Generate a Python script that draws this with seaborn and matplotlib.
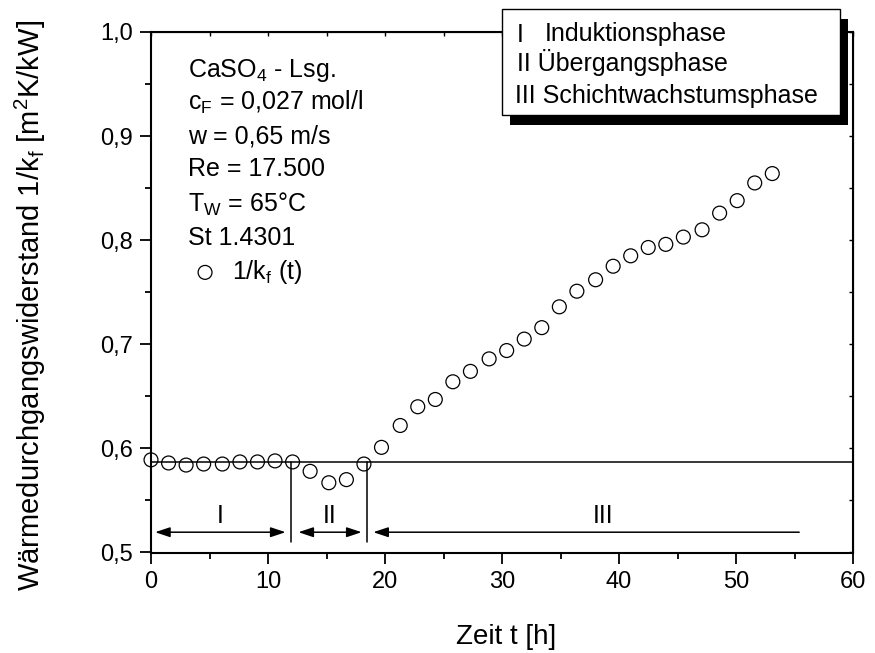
import numpy as np
import pandas as pd
import seaborn as sns
import matplotlib.pyplot as plt
from matplotlib.patches import Rectangle
from matplotlib.ticker import MultipleLocator, FuncFormatter

# Messwerte: Zeit [h] und 1/k_f [m^2K/kW]
zeit = [0.0, 1.5, 3.0, 4.5, 6.1, 7.6, 9.1, 10.6, 12.1, 13.6, 15.2, 16.7,
        18.2, 19.7, 21.3, 22.8, 24.3, 25.8, 27.3, 28.9, 30.4, 31.9, 33.4, 34.9,
        36.4, 38.0, 39.5, 41.0, 42.5, 44.0, 45.5, 47.1, 48.6, 50.1, 51.6, 53.1]
widerstand = [0.589, 0.586, 0.584, 0.585, 0.585, 0.587, 0.587, 0.588, 0.587, 0.578,
              0.567, 0.570, 0.585, 0.601, 0.622, 0.640, 0.647, 0.664, 0.674, 0.686,
              0.694, 0.705, 0.716, 0.736, 0.751, 0.762, 0.775, 0.785, 0.793, 0.796,
              0.803, 0.810, 0.826, 0.838, 0.855, 0.864]

# Phasen: Grenzen [h], Basislinie, Pfeile
basislinie = 0.587
phasen_grenzen = [11.95, 18.5]
phasen_namen = ['I', 'II', 'III']
pfeil_start = [0.35, 12.6, 19.0]
pfeil_ende = [11.5, 18.0, 55.4]
label_x = [5.9, 15.3, 38.6]

legende_phasen = ['Induktionsphase', 'Übergangsphase', 'Schichtwachstumsphase']
info_zeilen = [r'CaSO$_4$ - Lsg.', r'c$_F$ = 0,027 mol/l', 'w = 0,65 m/s',
               'Re = 17.500', r'T$_W$ = 65°C', 'St 1.4301']

df = pd.DataFrame({'t': zeit, 'R': widerstand})

sns.set_style('ticks', {'axes.edgecolor': 'black', 'text.color': 'black',
                        'axes.labelcolor': 'black', 'xtick.color': 'black',
                        'ytick.color': 'black'})
plt.rcParams['font.family'] = ['Liberation Sans', 'DejaVu Sans']
plt.rcParams['mathtext.default'] = 'regular'

FS = 18
W, H = 875, 653
fig = plt.figure(figsize=(W / 100, H / 100), dpi=100)
ax = fig.add_axes([151 / W, 1 - 552.5 / H, 702 / W, 520.5 / H])

sns.scatterplot(data=df, x='t', y='R', ax=ax, marker='o', s=100,
                facecolor='none', edgecolor='black', linewidth=0.9,
                label=r'1/k$_f$ (t)', clip_on=False, zorder=5)

ax.set_xlim(0, 60)
ax.set_ylim(0.5, 1.0)

# Basislinie und Phasengrenzen
ax.axhline(basislinie, color='black', lw=1.1)
for g in phasen_grenzen:
    ax.plot([g, g], [0.51, basislinie], color='black', lw=1.1)

arrow_y = 0.5195
for i, (a, b) in enumerate(zip(pfeil_start, pfeil_ende)):
    style = '<|-|>' if i < 2 else '<|-'
    ax.annotate('', xy=(b, arrow_y), xytext=(a, arrow_y),
                arrowprops=dict(arrowstyle=style + ',head_length=0.9,head_width=0.3',
                                color='black', lw=1.1, shrinkA=0, shrinkB=0))
    ax.text(label_x[i], 0.535, phasen_namen[i], ha='center', va='center', fontsize=FS)

# Achsen
ax.xaxis.set_major_locator(MultipleLocator(10))
ax.xaxis.set_minor_locator(MultipleLocator(5))
ax.yaxis.set_major_locator(MultipleLocator(0.1))
ax.yaxis.set_minor_locator(MultipleLocator(0.05))
ax.yaxis.set_major_formatter(FuncFormatter(lambda v, p: f'{v:.1f}'.replace('.', ',')))
ax.tick_params(which='major', direction='out', length=8, width=1.3, labelsize=17, pad=5)
ax.tick_params(which='minor', direction='out', length=4, width=1.3)
for s in ax.spines.values():
    s.set_linewidth(1.5)

# kleine Innenticks oben / rechts
sec_top = ax.secondary_xaxis('top')
sec_right = ax.secondary_yaxis('right')
for sec in [sec_top, sec_right]:
    sec.tick_params(which='both', direction='in', length=3, width=1.0,
                    labeltop=False, labelright=False, labelbottom=False, labelleft=False)
sec_top.xaxis.set_major_locator(MultipleLocator(10))
sec_top.xaxis.set_minor_locator(MultipleLocator(5))
sec_right.yaxis.set_major_locator(MultipleLocator(0.1))
sec_right.yaxis.set_minor_locator(MultipleLocator(0.05))

ax.set_xlabel('Zeit t [h]', fontsize=20)
ax.set_ylabel(r'Wärmedurchgangswiderstand 1/k$_f$ [m$^2$K/kW]', fontsize=21)
ax.xaxis.set_label_coords(0.506, -0.162)
ax.xaxis.label.set_va('center')
ax.yaxis.set_label_coords(-0.172, 0.474)
ax.yaxis.label.set_va('center')

# Versuchsbedingungen
baselines = [76.5, 109.5, 143.5, 176.5, 211.5, 245.5]
for txt, b in zip(info_zeilen, baselines):
    fig.text(188 / W, 1 - b / H, txt, fontsize=FS, ha='left', va='baseline')

leg = ax.legend(loc='center left', bbox_to_anchor=(0.0592, 0.539), frameon=False,
                fontsize=FS, handlelength=1.0, handletextpad=0.58,
                borderpad=0, borderaxespad=0)

# Phasen-Legende mit Schatten
fig.add_artist(Rectangle((510 / W, 1 - 125 / H), 338 / W, 106 / H,
                         transform=fig.transFigure, facecolor='black', edgecolor='none', zorder=10))
fig.add_artist(Rectangle((502 / W, 1 - 115 / H), 338 / W, 106 / H,
                         transform=fig.transFigure, facecolor='white', edgecolor='black',
                         lw=1.0, zorder=11))
fig.text(517 / W, 1 - 41.5 / H, 'I', fontsize=FS, va='baseline', zorder=12)
fig.text(545 / W, 1 - 41.5 / H, legende_phasen[0], fontsize=FS, va='baseline', zorder=12)
fig.text(517 / W, 1 - 71.5 / H, 'II ' + legende_phasen[1], fontsize=FS, va='baseline', zorder=12)
fig.text(515 / W, 1 - 102.5 / H, 'III ' + legende_phasen[2], fontsize=FS, va='baseline', zorder=12)

fig.savefig('out.png', dpi=100)
